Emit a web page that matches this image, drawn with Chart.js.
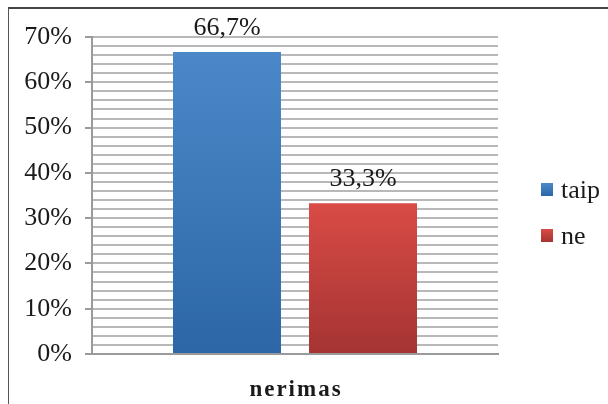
<!DOCTYPE html>
<html>
<head>
<meta charset="utf-8">
<script src="https://cdn.jsdelivr.net/npm/chart.js@4/dist/chart.umd.min.js"></script>
<style>
html,body{margin:0;padding:0;background:#fff;overflow:hidden;}
#wrap{position:relative;width:608px;height:404px;}
#frame{position:absolute;left:8px;top:7px;width:700px;height:500px;border-top:2px solid #444;border-left:1px solid #555;}
canvas{position:absolute;left:0;top:0;}
</style>
</head>
<body>
<div id="wrap"><div id="frame"></div><canvas id="c" width="608" height="404"></canvas></div>
<script>
const categories = ['nerimas'];
const seriesNames = ['taip', 'ne'];
const taipValues = [66.7];
const neValues = [33.3];
const seriesColors = [['#4c88c9', '#2c66a6'], ['#d94b46', '#a43432']];

const FONT = '"Liberation Serif", "Times New Roman", serif';

function grad(idx) {
  return function (ctx) {
    const chart = ctx.chart;
    if (!chart.chartArea || ctx.raw === undefined) return seriesColors[idx][0];
    const y = chart.scales.y;
    const top = y.getPixelForValue(ctx.raw);
    const bot = y.getPixelForValue(0);
    const g = chart.ctx.createLinearGradient(0, top, 0, bot);
    g.addColorStop(0, seriesColors[idx][0]);
    g.addColorStop(1, seriesColors[idx][1]);
    return g;
  };
}

const labelPlugin = {
  id: 'valueLabels',
  afterDatasetsDraw(chart) {
    const ctx = chart.ctx;
    ctx.save();
    ctx.font = '26px ' + FONT;
    ctx.fillStyle = '#1a1a1a';
    ctx.textAlign = 'center';
    ctx.textBaseline = 'alphabetic';
    chart.data.datasets.forEach((ds, i) => {
      const meta = chart.getDatasetMeta(i);
      meta.data.forEach((el, j) => {
        const v = ds.data[j];
        const txt = v.toFixed(1).replace('.', ',') + '%';
        ctx.fillText(txt, el.x, el.y - 17);
      });
    });
    ctx.restore();
  }
};

const xLabelPlugin = {
  id: 'xLabels',
  afterDraw(chart) {
    const ctx = chart.ctx;
    const xs = chart.scales.x;
    ctx.save();
    ctx.font = 'bold 23px ' + FONT;
    ctx.fillStyle = '#1a1a1a';
    ctx.textAlign = 'center';
    ctx.textBaseline = 'alphabetic';
    if ('letterSpacing' in ctx) ctx.letterSpacing = '2px';
    chart.data.labels.forEach((lab, i) => {
      ctx.fillText(lab, xs.getPixelForTick(i) + 1, xs.top + 42);
    });
    ctx.restore();
  }
};

const legendPlugin = {
  id: 'sideLegend',
  afterDraw(chart) {
    const ctx = chart.ctx;
    ctx.save();
    ctx.font = '26px ' + FONT;
    ctx.textBaseline = 'alphabetic';
    ctx.textAlign = 'left';
    const x0 = 541, ys = [183, 229];
    chart.data.datasets.forEach((ds, i) => {
      const y = ys[i];
      const g = ctx.createLinearGradient(0, y, 0, y + 13);
      g.addColorStop(0, seriesColors[i][0]);
      g.addColorStop(1, seriesColors[i][1]);
      ctx.fillStyle = g;
      ctx.fillRect(x0, y, 12, 13);
      ctx.fillStyle = '#1a1a1a';
      ctx.fillText(ds.label, x0 + 20, y + 15);
    });
    ctx.restore();
  }
};

new Chart(document.getElementById('c'), {
  type: 'bar',
  data: {
    labels: categories,
    datasets: [
      { label: seriesNames[0], data: taipValues, backgroundColor: grad(0), categoryPercentage: 0.67, barPercentage: 0.794 },
      { label: seriesNames[1], data: neValues, backgroundColor: grad(1), categoryPercentage: 0.67, barPercentage: 0.794 }
    ]
  },
  options: {
    responsive: false,
    animation: false,
    events: [],
    layout: { padding: { left: 0, right: 110, top: 37, bottom: 0 } },
    plugins: { legend: { display: false }, tooltip: { enabled: false }, title: { display: false } },
    scales: {
      x: {
        grid: { display: false },
        border: { display: true, color: '#9a9a9a', width: 2 },
        ticks: { display: false },
        afterFit(scale) { scale.height = 50; }
      },
      y: {
        min: 0, max: 70,
        grid: {
          color: '#b8b8b8', lineWidth: 2, tickLength: 7,
          tickColor: (c) => (c.tick && c.tick.value % 10 === 0) ? '#9a9a9a' : 'rgba(0,0,0,0)'
        },
        border: { display: true, color: '#9a9a9a', width: 2 },
        ticks: {
          stepSize: 2, autoSkip: false, padding: 13,
          font: { family: FONT, size: 26 }, color: '#1a1a1a',
          callback: (v) => (v % 10 === 0 ? v + '%' : '')
        },
        afterFit(scale) { scale.width = 92; }
      }
    }
  },
  plugins: [labelPlugin, xLabelPlugin, legendPlugin]
});
</script>
</body>
</html>
